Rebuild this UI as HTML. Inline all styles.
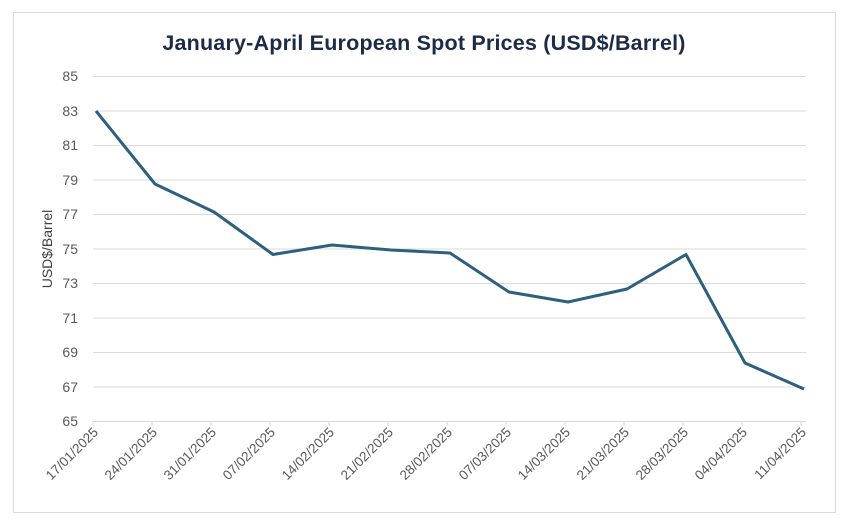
<!DOCTYPE html>
<html><head><style>
body{margin:0;background:#fff;width:848px;height:526px;overflow:hidden}
svg text{font-family:"Liberation Sans",sans-serif}
</style></head><body>
<svg width="848" height="526" xmlns="http://www.w3.org/2000/svg">
<rect x="13.5" y="12.5" width="822" height="500" fill="#fff" stroke="#d9d9d9" stroke-width="1"/>
<text x="424" y="50" text-anchor="middle" font-size="21.5" font-weight="bold" fill="#1b2b48" letter-spacing="0.2">January-April European Spot Prices (USD$/Barrel)</text>
<g stroke="#d9d9d9" stroke-width="1">
<line x1="93" x2="806" y1="76.5" y2="76.5"/>
<line x1="93" x2="806" y1="111" y2="111"/>
<line x1="93" x2="806" y1="145.5" y2="145.5"/>
<line x1="93" x2="806" y1="180" y2="180"/>
<line x1="93" x2="806" y1="214.5" y2="214.5"/>
<line x1="93" x2="806" y1="249" y2="249"/>
<line x1="93" x2="806" y1="283.5" y2="283.5"/>
<line x1="93" x2="806" y1="318" y2="318"/>
<line x1="93" x2="806" y1="352.5" y2="352.5"/>
<line x1="93" x2="806" y1="387" y2="387"/>
<line x1="93" x2="806" y1="421.5" y2="421.5"/>
<line x1="93" x2="93" y1="421" y2="426"/><line x1="152" x2="152" y1="421" y2="426"/><line x1="211" x2="211" y1="421" y2="426"/><line x1="270" x2="270" y1="421" y2="426"/><line x1="329" x2="329" y1="421" y2="426"/><line x1="388" x2="388" y1="421" y2="426"/><line x1="447" x2="447" y1="421" y2="426"/><line x1="506" x2="506" y1="421" y2="426"/><line x1="565" x2="565" y1="421" y2="426"/><line x1="624" x2="624" y1="421" y2="426"/><line x1="683" x2="683" y1="421" y2="426"/><line x1="742" x2="742" y1="421" y2="426"/><line x1="801" x2="801" y1="421" y2="426"/>
</g>
<g font-size="14" fill="#595959" text-anchor="end">
<text x="78" y="81">85</text><text x="78" y="116">83</text><text x="78" y="150">81</text><text x="78" y="185">79</text><text x="78" y="219">77</text><text x="78" y="254">75</text><text x="78" y="288">73</text><text x="78" y="323">71</text><text x="78" y="357">69</text><text x="78" y="392">67</text><text x="78" y="426">65</text>
</g>
<text transform="translate(52,249) rotate(-90)" text-anchor="middle" font-size="14" fill="#404040">USD$/Barrel</text>
<g font-size="13.5" fill="#595959" text-anchor="end">
<text transform="translate(99,433) rotate(-45)">17/01/2025</text>
<text transform="translate(158,433) rotate(-45)">24/01/2025</text>
<text transform="translate(217,433) rotate(-45)">31/01/2025</text>
<text transform="translate(276,433) rotate(-45)">07/02/2025</text>
<text transform="translate(335,433) rotate(-45)">14/02/2025</text>
<text transform="translate(394,433) rotate(-45)">21/02/2025</text>
<text transform="translate(453,433) rotate(-45)">28/02/2025</text>
<text transform="translate(512,433) rotate(-45)">07/03/2025</text>
<text transform="translate(571,433) rotate(-45)">14/03/2025</text>
<text transform="translate(630,433) rotate(-45)">21/03/2025</text>
<text transform="translate(689,433) rotate(-45)">28/03/2025</text>
<text transform="translate(748,433) rotate(-45)">04/04/2025</text>
<text transform="translate(807,433) rotate(-45)">11/04/2025</text>
</g>
<polyline fill="none" stroke="#2e5f7e" stroke-width="3" stroke-linejoin="round" points="96,111 155,184 214,212 273,254.5 332,245 391,250 450,253 509,292 568,302 627,289 686,254.5 745,363 804,389"/>
</svg>
</body></html>
